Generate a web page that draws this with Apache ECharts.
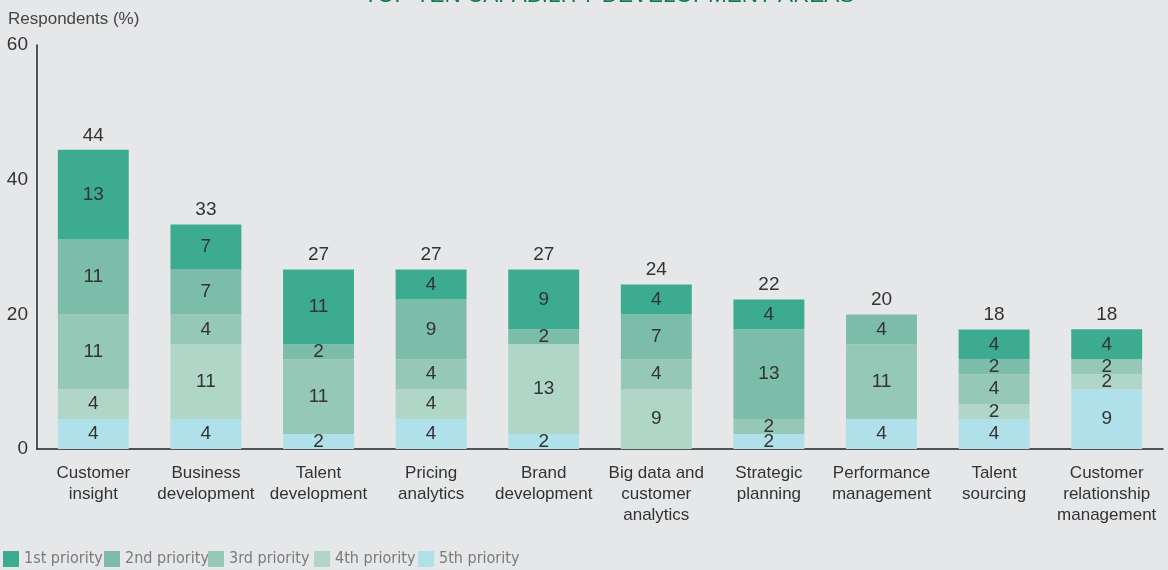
<!DOCTYPE html>
<html>
<head>
<meta charset="utf-8">
<script src="https://cdn.jsdelivr.net/npm/echarts@6/dist/echarts.min.js"></script>
<style>
  html, body { margin: 0; padding: 0; background: #e6e7e9; }
  #chart { width: 1168px; height: 570px; }
</style>
</head>
<body>
<div id="chart"></div>
<script>
// categories, bottom axis
var categories = [
  "Customer\ninsight", "Business\ndevelopment", "Talent\ndevelopment", "Pricing\nanalytics",
  "Brand\ndevelopment", "Big data and\ncustomer\nanalytics", "Strategic\nplanning",
  "Performance\nmanagement", "Talent\nsourcing", "Customer\nrelationship\nmanagement"
];
// respondents (%) per priority
var p1 = [13.33, 6.67, 11.11, 4.44, 8.89, 4.44, 4.44, 0, 4.44, 4.44];
var p2 = [11.11, 6.67, 2.22, 8.89, 2.22, 6.67, 13.33, 4.44, 2.22, 0];
var p3 = [11.11, 4.44, 11.11, 4.44, 0, 4.44, 2.22, 11.11, 4.44, 2.22];
var p4 = [4.44, 11.11, 0, 4.44, 13.33, 8.89, 0, 0, 2.22, 2.22];
var p5 = [4.44, 4.44, 2.22, 4.44, 2.22, 0, 2.22, 4.44, 4.44, 8.89];
var yTicks = [0, 20, 40, 60];
var legendNames = ["1st priority", "2nd priority", "3rd priority", "4th priority", "5th priority"];

var font = "Liberation Sans";
var narrow = "'DejaVu Sans Condensed', sans-serif";
var totals = categories.map(function (c, i) {
  return p1[i] + p2[i] + p3[i] + p4[i] + p5[i];
});

function seg(name, data, color) {
  return {
    name: name,
    type: "bar",
    stack: "all",
    data: data,
    barWidth: "63%",
    itemStyle: { color: color },
    label: {
      show: true,
      position: "inside",
      color: "#333",
      fontSize: 19,
      fontFamily: font,
      formatter: function (p) {
        return p.value ? Math.round(p.value) : "";
      }
    }
  };
}

// one legend block per item so the spacing matches
var legendLeft = [3, 104, 208, 314, 418];
var legends = legendNames.map(function (n, i) {
  return {
    data: [n],
    left: legendLeft[i],
    top: 551,
    padding: 0,
    itemWidth: 16,
    itemHeight: 16,
    itemGap: 0,
    icon: "rect",
    textStyle: { color: "#7a7a7a", fontSize: 16, fontFamily: narrow }
  };
});

var chart = echarts.init(document.getElementById("chart"));
chart.setOption({
  backgroundColor: "#e6e7e9",
  animation: false,
  title: {
    text: "TOP TEN CAPABILITY DEVELOPMENT AREAS",
    left: 604,
    textAlign: "center",
    top: -21,
    textStyle: { color: "#0f7a50", fontSize: 22.5, fontWeight: "normal", fontFamily: font }
  },
  legend: legends,
  grid: { left: 37, right: 5, top: 45, bottom: 121 },
  xAxis: {
    type: "category",
    data: categories,
    axisTick: { show: false },
    axisLine: { lineStyle: { color: "#222", width: 1.5 } },
    axisLabel: {
      interval: 0,
      color: "#333",
      fontSize: 17,
      lineHeight: 21,
      margin: 14,
      fontFamily: font
    }
  },
  yAxis: {
    type: "value",
    min: yTicks[0],
    max: yTicks[yTicks.length - 1],
    interval: 20,
    name: "Respondents (%)",
    nameLocation: "end",
    nameGap: 17,
    nameTextStyle: { color: "#444", fontSize: 17, fontFamily: font, align: "left", padding: [0, 0, 0, -29] },
    splitLine: { show: false },
    axisTick: { show: false },
    axisLine: { show: true, lineStyle: { color: "#222", width: 1.5 } },
    axisLabel: { color: "#333", fontSize: 19, margin: 9, fontFamily: font }
  },
  series: [
    seg("5th priority", p5, "#b0e0ea"),
    seg("4th priority", p4, "#b0d6c8"),
    seg("3rd priority", p3, "#95c8b6"),
    seg("2nd priority", p2, "#7cbda9"),
    seg("1st priority", p1, "#3dab90"),
    {
      name: "total",
      type: "bar",
      stack: "all",
      data: categories.map(function () { return 0; }),
      itemStyle: { color: "transparent" },
      label: {
        show: true,
        position: "top",
        distance: 5,
        color: "#333",
        fontSize: 19,
        fontFamily: font,
        formatter: function (p) { return Math.round(totals[p.dataIndex]); }
      }
    }
  ]
});
</script>
</body>
</html>
